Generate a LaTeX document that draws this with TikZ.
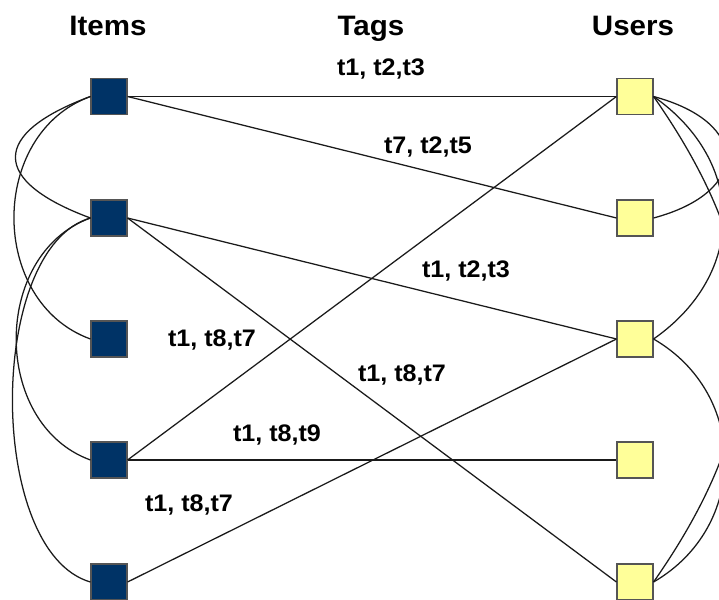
\documentclass[tikz,border=0pt]{standalone}
\usepackage{fontspec}
\setmainfont{Liberation Sans}[FakeStretch=1.05]
\usetikzlibrary{positioning}
\definecolor{itemfill}{HTML}{003366}
\definecolor{userfill}{HTML}{FFFF99}
\definecolor{boxline}{HTML}{555555}
\definecolor{edgeline}{HTML}{1A1A1A}

\begin{document}
\begin{tikzpicture}[
  x=0.025cm, y=0.025cm,
  item/.style={draw=boxline, fill=itemfill, line width=0.8pt, minimum size=0.9cm, inner sep=0pt},
  user/.style={item, fill=userfill},
  head/.style={font=\fontsize{20}{24}\selectfont\bfseries, anchor=base, inner sep=0pt},
  tag/.style={font=\fontsize{17}{20}\selectfont\bfseries, anchor=base, inner sep=0pt},
  link/.style={draw=edgeline, line width=0.9pt},
]
  \useasboundingbox (0,0) rectangle (719,600);
  \clip (0,0) rectangle (719,600);

  \node[head] (hitems) at (108,564) {Items};
  \node[head] (htags)  at (371,564) {Tags};
  \node[head] (husers) at (633,564) {Users};

  \node[item] (i1) at (109,503.5) {};
  \node[item] (i2) at (109,382) {};
  \node[item] (i3) at (109,261) {};
  \node[item] (i4) at (109,140) {};
  \node[item] (i5) at (109,18) {};

  \node[user] (u1) at (635,503.5) {};
  \node[user] (u2) at (635,382) {};
  \node[user] (u3) at (635,261) {};
  \node[user] (u4) at (635,140) {};
  \node[user] (u5) at (635,18) {};

  \draw[link] (i1.east) -- (u1.west);
  \draw[link] (i1.east) -- (u2.west);
  \draw[link] (i2.east) -- (u3.west);
  \draw[link] (i2.east) -- (u5.west);
  \draw[link] (i4.east) -- (u1.west);
  \draw[link] (i4.east) -- (u4.west);
  \draw[link] (i5.east) -- (u3.west);

  \draw[link] (i1.west) .. controls +(-100,-37) and +(-100,37) .. (i2.west);
  \draw[link] (i1.west) .. controls +(-102,-37) and +(-102,37) .. (i3.west);
  \draw[link] (i2.west) .. controls +(-99,-36) and +(-99,36) .. (i4.west);
  \draw[link] (i2.west) .. controls +(-104,-30) and +(-104,30) .. (i5.west);

  \draw[link] (u1.east) .. controls +(97,-26) and +(97,26) .. (u2.east);
  \draw[link] (u1.east) .. controls +(93,-65) and +(93,65) .. (u3.east);
  \draw[link] (u1.east) .. controls +(121,-173) and +(121,173) .. (u5.east);
  \draw[link] (u3.east) .. controls +(95,-55) and +(95,55) .. (u5.east);

  \node[tag] (tg1) at (381,524) {t1, t2,t3};
  \node[tag] (tg2) at (428,446) {t7, t2,t5};
  \node[tag] (tg3) at (466,322) {t1, t2,t3};
  \node[tag] (tg4) at (212,253) {t1, t8,t7};
  \node[tag] (tg5) at (402,218) {t1, t8,t7};
  \node[tag] (tg6) at (277,158) {t1, t8,t9};
  \node[tag] (tg7) at (189,88) {t1, t8,t7};
\end{tikzpicture}
\end{document}
